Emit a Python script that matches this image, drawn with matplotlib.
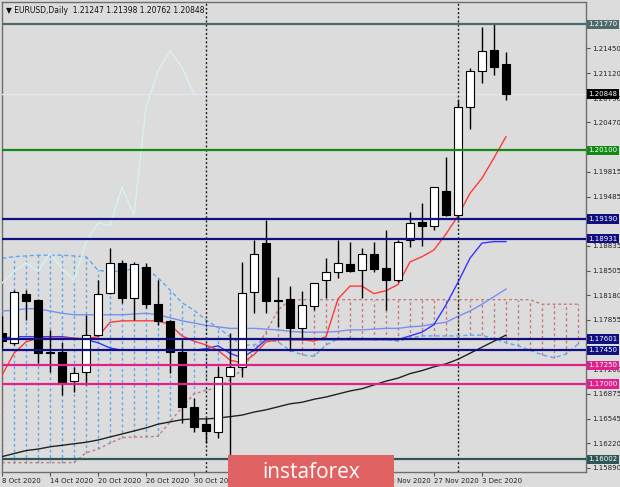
import numpy as np
import matplotlib.pyplot as plt
from matplotlib.patches import Rectangle
import matplotlib.transforms as mtransforms

# daily EURUSD bars, 8 Oct 2020 .. 7 Dec 2020
opens = [1.1768, 1.1755, 1.1820, 1.1812, 1.1743, 1.1743, 1.1704, 1.1716, 1.1765, 1.1821,
         1.1861, 1.1814, 1.1855, 1.1806, 1.1784, 1.1743, 1.1670, 1.1647, 1.1637, 1.1711,
         1.1723, 1.1822, 1.1887, 1.1812, 1.1813, 1.1775, 1.1804, 1.1838, 1.1849, 1.1859,
         1.1851, 1.1873, 1.1854, 1.1838, 1.1891, 1.1915, 1.1910, 1.1956, 1.1924, 1.2067,
         1.2115, 1.2143, 1.21247]
highs = [1.1790, 1.1825, 1.1825, 1.1813, 1.1772, 1.1756, 1.1723, 1.1792, 1.1838, 1.1880,
         1.1865, 1.1862, 1.1861, 1.1838, 1.1785, 1.1759, 1.1682, 1.1655, 1.1724, 1.1768,
         1.1862, 1.1891, 1.1918, 1.1842, 1.1830, 1.1824, 1.1834, 1.1867, 1.1891, 1.1888,
         1.1880, 1.1888, 1.1904, 1.1891, 1.1928, 1.1940, 1.1961, 1.2001, 1.2077, 1.2119,
         1.2173, 1.2177, 1.21398]
lows = [1.1748, 1.1752, 1.1785, 1.1728, 1.1716, 1.1686, 1.1690, 1.1699, 1.1764, 1.1820,
        1.1808, 1.1785, 1.1801, 1.1779, 1.1715, 1.1649, 1.1637, 1.1622, 1.1629, 1.1600,
        1.1710, 1.1794, 1.1794, 1.1776, 1.1744, 1.1759, 1.1798, 1.1814, 1.1841, 1.1849,
        1.1814, 1.1849, 1.1798, 1.1835, 1.1882, 1.1883, 1.1904, 1.1923, 1.1920, 1.2038,
        1.2099, 1.2110, 1.20762]
closes = [1.1757, 1.1822, 1.1810, 1.1741, 1.1741, 1.1703, 1.1715, 1.1765, 1.1820, 1.1861,
          1.1814, 1.1859, 1.1806, 1.1784, 1.1743, 1.1670, 1.1643, 1.1638, 1.1710, 1.1723,
          1.1821, 1.1873, 1.1810, 1.1810, 1.1775, 1.1805, 1.1834, 1.1849, 1.1861, 1.1850,
          1.1873, 1.1853, 1.1838, 1.1888, 1.1914, 1.1910, 1.1961, 1.1924, 1.2067, 1.2115,
          1.2142, 1.2120, 1.20848]

# Ichimoku lines and moving averages
tenkan = [1.1712, 1.1741, 1.1756, 1.1761, 1.1761, 1.1761, 1.1761, 1.1760, 1.1763, 1.1782,
          1.1784, 1.1784, 1.1784, 1.1784, 1.1779, 1.1764, 1.1757, 1.1752, 1.1745, 1.1732,
          1.1728, 1.1739, 1.1756, 1.1759, 1.1759, 1.1759, 1.1757, 1.1763, 1.1813, 1.1830,
          1.1830, 1.1820, 1.1824, 1.1832, 1.1862, 1.1869, 1.1878, 1.1899, 1.1923, 1.1953,
          1.1973, 1.2000, 1.2028]
kijun = [1.1761, 1.1763, 1.1763, 1.1763, 1.1763, 1.1763, 1.1761, 1.1759, 1.1755, 1.1748,
         1.1745, 1.1745, 1.1745, 1.1745, 1.1745, 1.1745, 1.1745, 1.1747, 1.1751, 1.1741,
         1.1735, 1.1745, 1.1759, 1.1759, 1.1759, 1.1759, 1.1759, 1.1759, 1.1759, 1.1759,
         1.1759, 1.1759, 1.1759, 1.1759, 1.1764, 1.1769, 1.1779, 1.1805, 1.1835, 1.1867,
         1.1887, 1.1889, 1.1889]
ma_slow = [1.1797, 1.1798, 1.1800, 1.1800, 1.1797, 1.1794, 1.1792, 1.1792, 1.1792, 1.1792,
           1.1792, 1.1793, 1.1794, 1.1792, 1.1788, 1.1784, 1.1781, 1.1778, 1.1776, 1.1774,
           1.1774, 1.1774, 1.1773, 1.1772, 1.1770, 1.1769, 1.1769, 1.1769, 1.1770, 1.1772,
           1.1772, 1.1773, 1.1774, 1.1774, 1.1776, 1.1777, 1.1780, 1.1782, 1.1790, 1.1797,
           1.1806, 1.1816, 1.1826]
ma_long = [1.1604, 1.1608, 1.1612, 1.1614, 1.1617, 1.1619, 1.1621, 1.1623, 1.1626, 1.1630,
           1.1634, 1.1638, 1.1642, 1.1647, 1.1650, 1.1653, 1.1654, 1.1654, 1.1655, 1.1657,
           1.1659, 1.1663, 1.1666, 1.1670, 1.1674, 1.1676, 1.1680, 1.1683, 1.1687, 1.1691,
           1.1694, 1.1699, 1.1704, 1.1708, 1.1714, 1.1718, 1.1723, 1.1727, 1.1733, 1.1741,
           1.1749, 1.1757, 1.1765]
span_a = [1.1596, 1.1596, 1.1596, 1.1596, 1.1596, 1.1596, 1.1596, 1.1609, 1.1614, 1.1622,
          1.1629, 1.1630, 1.1630, 1.1631, 1.1650, 1.1669, 1.1687, 1.1692, 1.1695, 1.1706,
          1.1719, 1.1743, 1.1769, 1.1798, 1.1812, 1.1812, 1.1812, 1.1812, 1.1812, 1.1812,
          1.1812, 1.1812, 1.1812, 1.1812, 1.1812, 1.1812, 1.1812, 1.1812, 1.1812, 1.1812,
          1.1812, 1.1812, 1.1812, 1.1812, 1.1812, 1.1806, 1.1806, 1.1806, 1.1806]
span_b = [1.1867, 1.1869, 1.1870, 1.1871, 1.1871, 1.1871, 1.1870, 1.1869, 1.1851, 1.1849,
          1.1850, 1.1853, 1.1854, 1.1841, 1.1825, 1.1808, 1.1798, 1.1785, 1.1775, 1.1763,
          1.1752, 1.1752, 1.1759, 1.1756, 1.1745, 1.1739, 1.1737, 1.1752, 1.1760, 1.1761,
          1.1760, 1.1759, 1.1759, 1.1757, 1.1761, 1.1764, 1.1764, 1.1764, 1.1764, 1.1765,
          1.1765, 1.1760, 1.1755, 1.1751, 1.1745, 1.1739, 1.1735, 1.1740, 1.1753]

levels = [1.21770, 1.20848, 1.20100, 1.19190, 1.18931, 1.17601, 1.17450, 1.17250, 1.17000, 1.16002]
level_colors = ['#4d6b6b', '#000000', '#138a13', '#101080', '#101080', '#101080', '#101080',
                '#e0208c', '#e0208c', '#2f5656']
# scale labels that are not covered by a level box
price_ticks = [1.21450, 1.21120, 1.20790, 1.20470, 1.19815, 1.19485, 1.18835,
               1.18505, 1.18180, 1.17855, 1.17200, 1.16875, 1.16545, 1.16220, 1.15890]
# date labels not hidden by the banner
date_pos = [0, 4, 8, 12, 16, 32, 36, 40]
date_labels = ['8 Oct 2020', '14 Oct 2020', '20 Oct 2020', '26 Oct 2020', '30 Oct 2020',
               '23 Nov 2020', '27 Nov 2020', '3 Dec 2020']

BG = '#dcdcdc'
COL_A = '#c87878'
COL_B = '#5fa8ee'

fig = plt.figure(figsize=(6.2, 4.87), dpi=100)
fig.patch.set_facecolor(BG)
ax = fig.add_axes([2 / 620, 15 / 487, 584 / 620, 470 / 487])
ax.set_facecolor(BG)

x = np.arange(len(closes))
xc = np.arange(len(span_a))
a = np.array(span_a)
b = np.array(span_b)

# kumo hatching: vertical dotted lines coloured by the upper span
hatch_cols = [COL_A if ai >= bi else COL_B for ai, bi in zip(a, b)]
ax.vlines(xc, np.minimum(a, b), np.maximum(a, b), colors=hatch_cols,
          linestyles=(0, (2, 2)), lw=1, zorder=2)
ax.plot(xc, a, color=COL_A, ls=(0, (2, 2)), lw=1, zorder=2)
ax.plot(xc, b, color=COL_B, ls=(0, (3, 2)), lw=1, zorder=2)

ax.plot(x, ma_long, color='#222222', lw=1, zorder=3)
ax.plot(x, ma_slow, color='#7890f0', lw=1, zorder=3)
ax.plot(x, kijun, color='#3535ff', lw=1, zorder=3)
ax.plot(x, tenkan, color='#ff3a3a', lw=1, zorder=3)
ax.plot(x[:-26], closes[26:], color='#d6f2f2', lw=1, zorder=3)

# period separators
for sep in [17, 38]:
    ax.axvline(sep, color='#222222', ls=(0, (1.5, 1.5)), lw=1, zorder=4)

# candles
o = np.array(opens)
c = np.array(closes)
body_cols = ['white' if cc >= oo else 'black' for oo, cc in zip(o, c)]
ax.vlines(x, lows, highs, color='black', lw=1, zorder=5)
ax.bar(x, np.maximum(np.abs(c - o), 0.00006), bottom=np.minimum(o, c), width=0.62,
       color=body_cols, edgecolor='black', linewidth=0.8, zorder=6)

# horizontal levels
for lv, col in zip(levels, level_colors):
    if lv == 1.20848:
        ax.axhline(lv, color='#e6e6f2', lw=1, zorder=4)
    else:
        ax.axhline(lv, color=col, lw=1.6, zorder=7)

ax.set_xlim(0, 48.67)
ax.set_ylim(1.15836, 1.22066)

ax.yaxis.tick_right()
ax.set_yticks(price_ticks)
ax.set_yticklabels([f'{t:.5f}' for t in price_ticks], fontsize=5, color='#222222')
ax.tick_params(axis='y', length=3, pad=1.5, width=0.8, color='#555555')
ax.set_xticks(date_pos)
ax.set_xticklabels(date_labels, fontsize=5, color='#222222', ha='left')
ax.tick_params(axis='x', length=3, pad=1.5, width=0.8, color='#555555')
for sp in ax.spines.values():
    sp.set_color('#6e6e6e')
    sp.set_linewidth(1)

# price labels in boxes on the right scale
trans = mtransforms.blended_transform_factory(ax.transAxes, ax.transData)
for lv, col in zip(levels, level_colors):
    ax.text(1.004, lv, f'{lv:.5f}', transform=trans, fontsize=5, color='white',
            va='center', ha='left', clip_on=False, zorder=10,
            bbox=dict(boxstyle='square,pad=0.25', fc=col, ec='none'))

ax.text(0.006, 0.992, '\u25bc EURUSD,Daily  1.21247 1.21398 1.20762 1.20848', transform=ax.transAxes,
        fontsize=5.5, color='#111111', va='top', ha='left', zorder=10)

# instaforex banner
fig.add_artist(Rectangle((228 / 620, 0), 166 / 620, 32 / 487, transform=fig.transFigure,
                         fc='#e06262', ec='none', zorder=20))
fig.text(311 / 620, 15 / 487, 'instaforex', color='white', fontsize=15, ha='center',
         va='center', family='Open Sans', zorder=21)

fig.savefig('out.png', dpi=100, facecolor=BG)
